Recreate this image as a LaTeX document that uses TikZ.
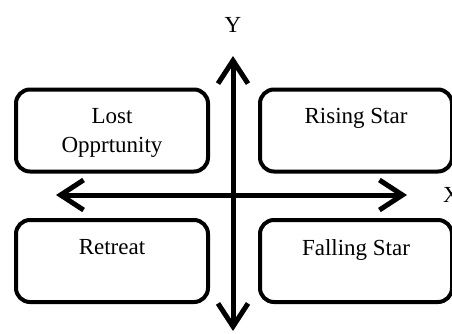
\documentclass[tikz,border=0pt]{standalone}
\usepackage{fontspec}
\setmainfont{Liberation Serif}
\usetikzlibrary{positioning,arrows.meta}
\tikzset{
  quad/.style={draw, line width=4pt, rounded corners=14pt, minimum width=192pt, minimum height=82pt},
  quadtext/.style={align=center, font=\fontsize{23}{29}\selectfont, inner sep=0pt},
  axis/.style={line width=5pt, {Straight Barb[length=23pt,width=30pt]}-{Straight Barb[length=23pt,width=30pt]}},
  axislabel/.style={font=\fontsize{23}{29}\selectfont, inner sep=0pt},
}

\begin{document}
\begin{tikzpicture}[x=1pt, y=-1pt]
  \useasboundingbox (0,0) rectangle (452,333);

  \node[quad] (lost) at (112,130.5) {};
  \node[quad] (rising) at (356,130.5) {};
  \node[quad] (retreat) at (112,261) {};
  \node[quad] (falling) at (356,261) {};

  \node[quadtext, below=21pt of lost.north] (losttxt) {Lost\\Opprtunity};
  \node[quadtext, below=21pt of rising.north] (risingtxt) {Rising Star};
  \node[quadtext, below=21pt of retreat.north] (retreattxt) {Retreat};
  \node[quadtext, below=21pt of falling.north] (fallingtxt) {Falling Star};

  \coordinate (ytop) at (233,56);
  \coordinate (ybot) at (233,331);
  \coordinate (xleft) at (56,195);
  \coordinate (xright) at (407,195);

  \draw[axis] (ybot) -- (ytop);
  \draw[axis] (xleft) -- (xright);

  \node[axislabel] (ylabel) at (233,25) {Y};
  \node[axislabel, anchor=west] (xlabel) at (443,195) {X};
\end{tikzpicture}
\end{document}
